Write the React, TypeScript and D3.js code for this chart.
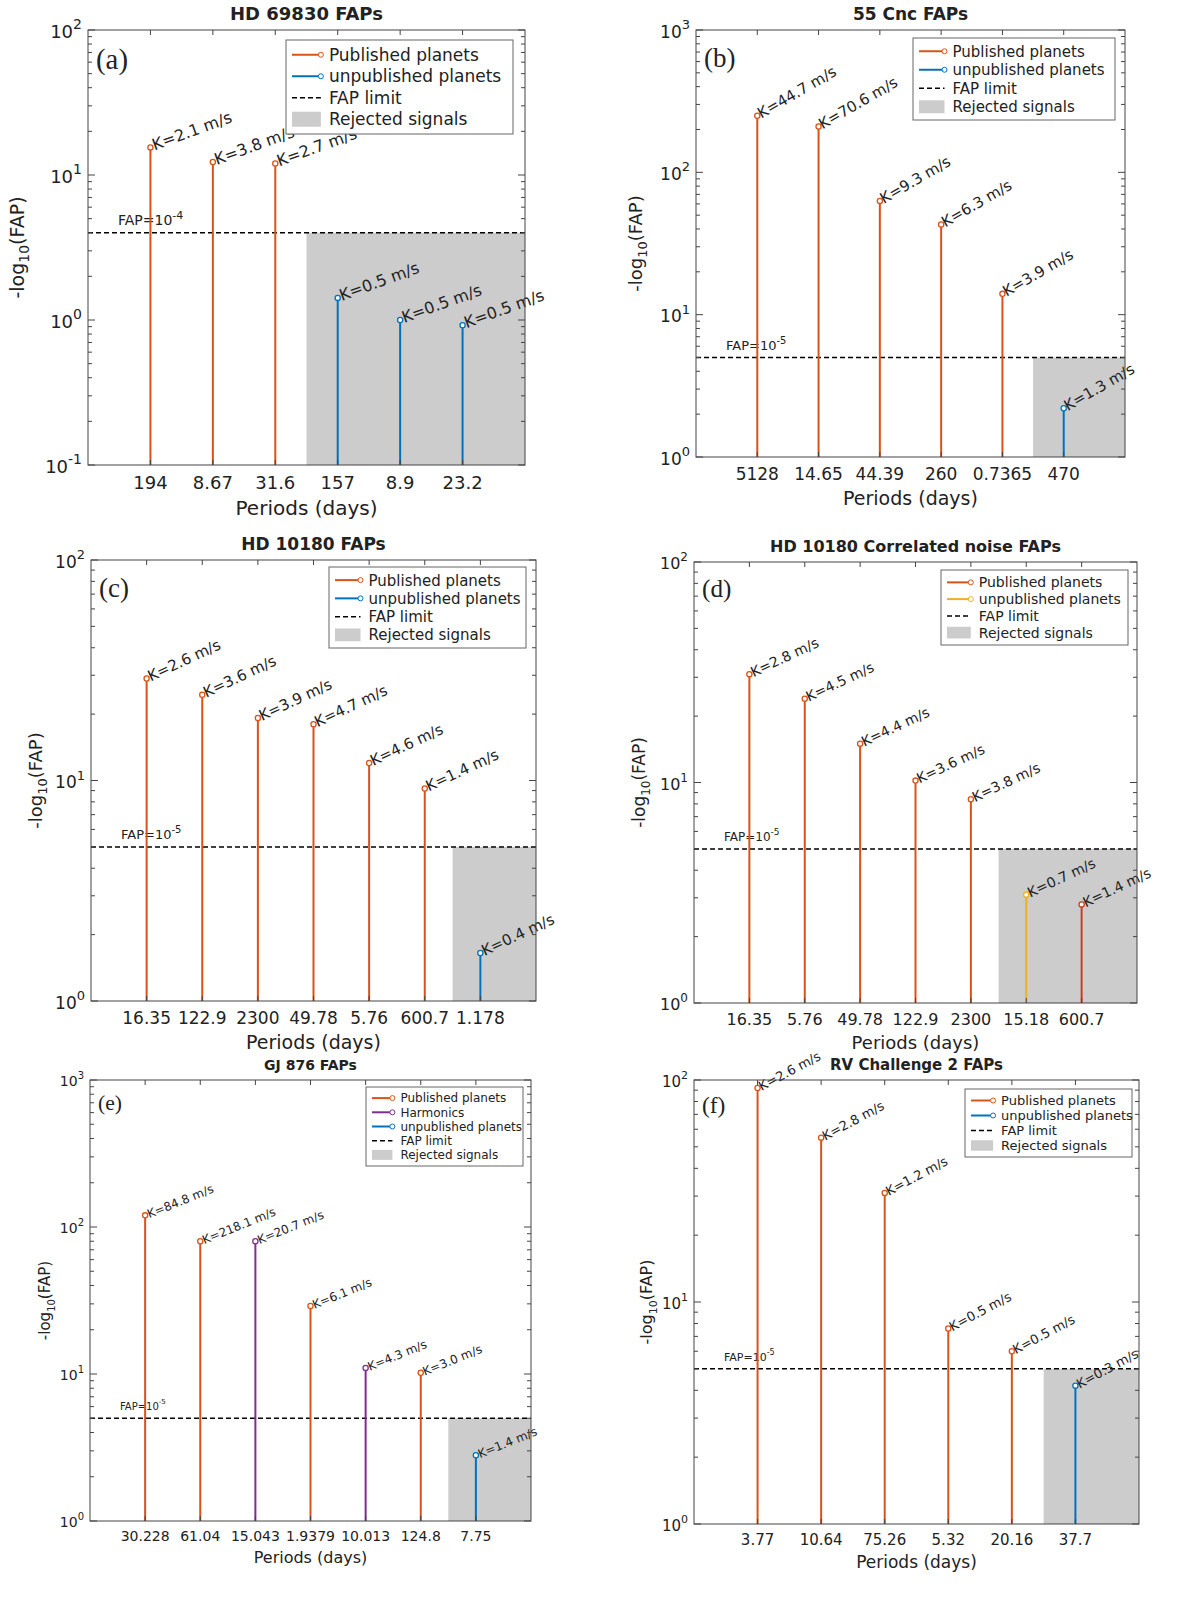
import React from "react";
import * as d3 from "d3";

const OR = "#D95319", BL = "#0072BD", PU = "#7E2F8E", YE = "#EDB120", DR = "#C8401A";

const aPeriods = ["194", "8.67", "31.6", "157", "8.9", "23.2"];
const aValues = [15.5, 12.3, 12, 1.42, 1.0, 0.92];
const aK = ["2.1", "3.8", "2.7", "0.5", "0.5", "0.5"];
const aColors = [OR, OR, OR, BL, BL, BL];

const bPeriods = ["5128", "14.65", "44.39", "260", "0.7365", "470"];
const bValues = [250, 210, 63, 43, 14, 2.2];
const bK = ["44.7", "70.6", "9.3", "6.3", "3.9", "1.3"];
const bColors = [OR, OR, OR, OR, OR, BL];

const cPeriods = ["16.35", "122.9", "2300", "49.78", "5.76", "600.7", "1.178"];
const cValues = [29, 24.5, 19.2, 18, 12, 9.2, 1.65];
const cK = ["2.6", "3.6", "3.9", "4.7", "4.6", "1.4", "0.4"];
const cColors = [OR, OR, OR, OR, OR, OR, BL];

const dPeriods = ["16.35", "5.76", "49.78", "122.9", "2300", "15.18", "600.7"];
const dValues = [31, 24, 15, 10.2, 8.4, 3.1, 2.8];
const dK = ["2.8", "4.5", "4.4", "3.6", "3.8", "0.7", "1.4"];
const dColors = [OR, OR, OR, OR, OR, YE, DR];

const ePeriods = ["30.228", "61.04", "15.043", "1.9379", "10.013", "124.8", "7.75"];
const eValues = [120, 80, 80, 29, 11, 10.2, 2.8];
const eK = ["84.8", "218.1", "20.7", "6.1", "4.3", "3.0", "1.4"];
const eColors = [OR, OR, PU, OR, PU, OR, BL];

const fPeriods = ["3.77", "10.64", "75.26", "5.32", "20.16", "37.7"];
const fValues = [92, 55, 31, 7.6, 6.0, 4.2];
const fK = ["2.6", "2.8", "1.2", "0.5", "0.5", "0.3"];
const fColors = [OR, OR, OR, OR, OR, BL];

type Leg = { label: string; type: "line" | "dash" | "rect"; color?: string };

type P = {
  tag: string; title: string; periods: string[]; values: number[]; ks: string[]; colors: string[];
  x0: number; x1: number; y0: number; y1: number; yMin: number; yMax: number;
  fap: number; fapExp: string; rejectFrom: number; angle: number; fs: number; lfs: number;
  leg: { x: number; y: number; w: number; h: number; items: Leg[] };
  ylabX: number;
};

function Panel({ p }: { p: P }) {
  const n = p.periods.length;
  const x = d3.scaleLinear().domain([0, n + 1]).range([p.x0, p.x1]);
  const y = d3.scaleLog().domain([p.yMin, p.yMax]).range([p.y1, p.y0]);
  const fs = p.fs;
  const tfs = fs + 2;
  const decades: number[] = [];
  for (let e = Math.log10(p.yMin); e <= Math.log10(p.yMax) + 1e-9; e++) decades.push(Math.round(e));
  const minors: number[] = [];
  decades.slice(0, -1).forEach((e) => { for (let m = 2; m < 10; m++) minors.push(m * Math.pow(10, e)); });
  const rh = (p.leg.h - 8) / p.leg.items.length;
  const lfs = p.lfs;
  return (
    <g fontFamily="DejaVu Sans, sans-serif" fill="#222">
      <text x={(p.x0 + p.x1) / 2} y={p.y0 - 10} textAnchor="middle" fontWeight="bold" fontSize={fs + 2}>{p.title}</text>
      <rect x={x(p.rejectFrom)} y={y(p.fap)} width={p.x1 - x(p.rejectFrom)} height={p.y1 - y(p.fap)} fill="#cccccc" />
      <line x1={p.x0} x2={p.x1} y1={y(p.fap)} y2={y(p.fap)} stroke="#000" strokeWidth={1.5} strokeDasharray="5,3" />
      <text x={p.x0 + 30} y={y(p.fap) - 8} fontSize={fs - 2}>FAP=10<tspan dy={-6} fontSize={fs - 5}>{p.fapExp}</tspan></text>
      {p.values.map((v, i) => (
        <g key={i}>
          <line x1={x(i + 1)} x2={x(i + 1)} y1={p.y1} y2={y(v)} stroke={p.colors[i]} strokeWidth={2} />
          <circle cx={x(i + 1)} cy={y(v)} r={2.6} fill="#fff" stroke={p.colors[i]} strokeWidth={1.3} />
          <text transform={`translate(${x(i + 1) + 4},${y(v) + 3}) rotate(${-p.angle})`} fontSize={fs}>K={p.ks[i]} m/s</text>
          <text x={x(i + 1)} y={p.y1 + tfs + 6} textAnchor="middle" fontSize={tfs}>{p.periods[i]}</text>
        </g>
      ))}
      <rect x={p.x0} y={p.y0} width={p.x1 - p.x0} height={p.y1 - p.y0} fill="none" stroke="#444" strokeWidth={1} />
      {d3.range(1, n + 1).map((i) => (
        <g key={i}>
          <line x1={x(i)} x2={x(i)} y1={p.y1} y2={p.y1 - 5} stroke="#444" />
          <line x1={x(i)} x2={x(i)} y1={p.y0} y2={p.y0 + 5} stroke="#444" />
        </g>
      ))}
      {decades.map((e) => (
        <g key={e}>
          <line x1={p.x0} x2={p.x0 + 7} y1={y(Math.pow(10, e))} y2={y(Math.pow(10, e))} stroke="#444" />
          <line x1={p.x1} x2={p.x1 - 7} y1={y(Math.pow(10, e))} y2={y(Math.pow(10, e))} stroke="#444" />
          <text x={p.x0 - 6} y={y(Math.pow(10, e)) + tfs / 2 - 1} textAnchor="end" fontSize={tfs}>10<tspan dy={-tfs / 2} fontSize={tfs - 4}>{e}</tspan></text>
        </g>
      ))}
      {minors.map((m, i) => (
        <g key={i}>
          <line x1={p.x0} x2={p.x0 + 4} y1={y(m)} y2={y(m)} stroke="#444" />
          <line x1={p.x1} x2={p.x1 - 4} y1={y(m)} y2={y(m)} stroke="#444" />
        </g>
      ))}
      <text x={(p.x0 + p.x1) / 2} y={p.y1 + tfs * 2 + 14} textAnchor="middle" fontSize={tfs + 2}>Periods (days)</text>
      <text transform={`translate(${p.ylabX},${(p.y0 + p.y1) / 2}) rotate(-90)`} textAnchor="middle" fontSize={tfs + 1}>-log<tspan dy={5} fontSize={tfs - 4}>10</tspan><tspan dy={-5}>(FAP)</tspan></text>
      <text x={p.x0 + 8} y={p.y0 + 2.2 * fs + 4} fontFamily="Liberation Serif, serif" fontSize={fs * 1.8}>({p.tag})</text>
      <rect x={p.leg.x} y={p.leg.y} width={p.leg.w} height={p.leg.h} fill="#fff" stroke="#666" />
      {p.leg.items.map((it, j) => {
        const cy = p.leg.y + 4 + rh * (j + 0.5);
        const lx = p.leg.x + 6, sw = lfs * 1.7;
        return (
          <g key={j}>
            {it.type === "line" && <><line x1={lx} x2={lx + sw} y1={cy} y2={cy} stroke={it.color} strokeWidth={2} /><circle cx={lx + sw} cy={cy} r={2.5} fill="#fff" stroke={it.color} /></>}
            {it.type === "dash" && <line x1={lx} x2={lx + sw} y1={cy} y2={cy} stroke="#000" strokeWidth={1.5} strokeDasharray="5,3" />}
            {it.type === "rect" && <rect x={lx} y={cy - rh * 0.35} width={sw} height={rh * 0.7} fill="#cccccc" />}
            <text x={lx + sw + 8} y={cy + lfs * 0.36} fontSize={lfs}>{it.label}</text>
          </g>
        );
      })}
    </g>
  );
}

const std = (c2: string): Leg[] => [
  { label: "Published planets", type: "line", color: OR },
  { label: "unpublished planets", type: "line", color: c2 },
  { label: "FAP limit", type: "dash" },
  { label: "Rejected signals", type: "rect" },
];

const panels: P[] = [
  { tag: "a", title: "HD 69830 FAPs", periods: aPeriods, values: aValues, ks: aK, colors: aColors, x0: 88, x1: 525, y0: 30, y1: 465, yMin: 0.1, yMax: 100, fap: 4, fapExp: "-4", rejectFrom: 3.5, angle: 20, fs: 16, lfs: 17, leg: { x: 286, y: 40, w: 227, h: 94, items: std(BL) }, ylabX: 24 },
  { tag: "b", title: "55 Cnc FAPs", periods: bPeriods, values: bValues, ks: bK, colors: bColors, x0: 696, x1: 1125, y0: 30, y1: 457, yMin: 1, yMax: 1000, fap: 5, fapExp: "-5", rejectFrom: 5.5, angle: 30, fs: 15, lfs: 15, leg: { x: 913, y: 38, w: 202, h: 82, items: std(BL) }, ylabX: 642 },
  { tag: "c", title: "HD 10180 FAPs", periods: cPeriods, values: cValues, ks: cK, colors: cColors, x0: 91, x1: 536, y0: 560, y1: 1001, yMin: 1, yMax: 100, fap: 5, fapExp: "-5", rejectFrom: 6.5, angle: 25, fs: 15, lfs: 15, leg: { x: 329, y: 567, w: 197, h: 81, items: std(BL) }, ylabX: 42 },
  { tag: "d", title: "HD 10180 Correlated noise FAPs", periods: dPeriods, values: dValues, ks: dK, colors: dColors, x0: 694, x1: 1137, y0: 562, y1: 1003, yMin: 1, yMax: 100, fap: 5, fapExp: "-5", rejectFrom: 5.5, angle: 25, fs: 14, lfs: 14, leg: { x: 941, y: 570, w: 187, h: 75, items: std(YE) }, ylabX: 645 },
  { tag: "e", title: "GJ 876 FAPs", periods: ePeriods, values: eValues, ks: eK, colors: eColors, x0: 90, x1: 531, y0: 1080, y1: 1521, yMin: 1, yMax: 1000, fap: 5, fapExp: "-5", rejectFrom: 6.5, angle: 22, fs: 12, lfs: 12, leg: { x: 366, y: 1087, w: 157, h: 79, items: [{ label: "Published planets", type: "line", color: OR }, { label: "Harmonics", type: "line", color: PU }, { label: "unpublished planets", type: "line", color: BL }, { label: "FAP limit", type: "dash" }, { label: "Rejected signals", type: "rect" }] }, ylabX: 50 },
  { tag: "f", title: "RV Challenge 2 FAPs", periods: fPeriods, values: fValues, ks: fK, colors: fColors, x0: 694, x1: 1139, y0: 1080, y1: 1524, yMin: 1, yMax: 100, fap: 5, fapExp: "-5", rejectFrom: 5.5, angle: 28, fs: 13, lfs: 13, leg: { x: 965, y: 1089, w: 167, h: 68, items: std(BL) }, ylabX: 652 },
];

export default function App() {
  return (
    <svg width={1180} height={1597} style={{ display: "block", position: "absolute", left: 0, top: 0 }}>
      <rect width={1180} height={1597} fill="#fff" />
      {panels.map((p) => <Panel key={p.tag} p={p} />)}
    </svg>
  );
}
